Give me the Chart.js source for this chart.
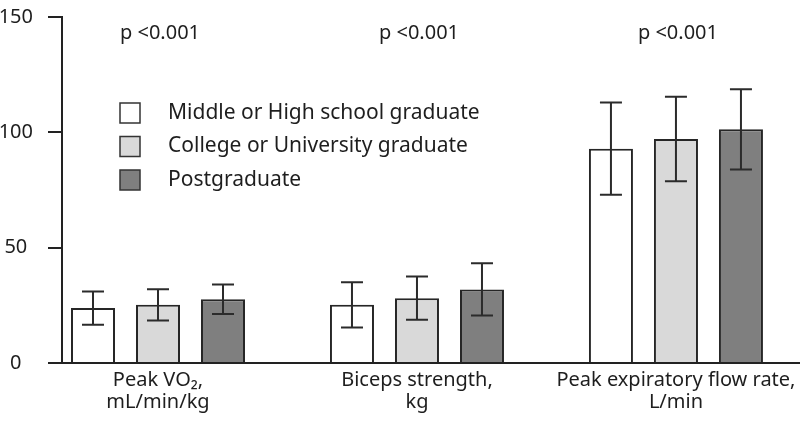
<!DOCTYPE html>
<html>
<head>
<meta charset="utf-8">
<script src="https://cdn.jsdelivr.net/npm/chart.js@4.4.1/dist/chart.umd.min.js"></script>
<style>
html, body { margin: 0; padding: 0; background: #fff; }
#wrap { width: 800px; height: 425px; }
</style>
</head>
<body>
<div id="wrap"><canvas id="chart"></canvas></div>
<script>
// values (mean and SD)
const categories = [['Peak VO\u2082,', 'mL/min/kg'], ['Biceps strength,', 'kg'], ['Peak expiratory flow rate,', 'L/min']];
const pLabels = ['p <0.001', 'p <0.001', 'p <0.001'];
const groupNames = ['Middle or High school graduate', 'College or University graduate', 'Postgraduate'];
const middleHigh = [23.8, 25.2, 92.9];
const middleHighSd = [7.2, 9.8, 20.0];
const college = [25.2, 28.1, 97.1];
const collegeSd = [6.8, 9.4, 18.3];
const postgrad = [27.6, 31.9, 101.3];
const postgradSd = [6.4, 11.3, 17.4];
const yTicks = [0, 50, 100, 150];

const FONT = '"Noto Sans", sans-serif';
const INK = '#1e1e1e';

function points(vals) {
  return vals.map((v, i) => ({ x: i, y: v }));
}

// SD whiskers
const errorBars = {
  id: 'errorBars',
  afterDatasetsDraw(chart) {
    const ctx = chart.ctx;
    const y = chart.scales.y;
    ctx.save();
    ctx.strokeStyle = '#2b2b2b';
    ctx.lineWidth = 2;
    chart.data.datasets.forEach((ds, di) => {
      chart.getDatasetMeta(di).data.forEach((bar, i) => {
        const m = ds.data[i].y, s = ds.sd[i];
        const top = y.getPixelForValue(m + s);
        const bot = y.getPixelForValue(m - s);
        ctx.beginPath();
        ctx.moveTo(bar.x, top); ctx.lineTo(bar.x, bot);
        ctx.moveTo(bar.x - 11, top); ctx.lineTo(bar.x + 11, top);
        ctx.moveTo(bar.x - 11, bot); ctx.lineTo(bar.x + 11, bot);
        ctx.stroke();
      });
    });
    ctx.restore();
  }
};

// p values above groups + legend inside the plot
const notes = {
  id: 'notes',
  afterDraw(chart) {
    const ctx = chart.ctx;
    const x = chart.scales.x;
    ctx.save();
    ctx.font = '20px ' + FONT;
    ctx.fillStyle = INK;
    ctx.textBaseline = 'middle';
    ctx.textAlign = 'center';
    pLabels.forEach((t, i) => ctx.fillText(t, x.getPixelForValue(i) + 2, 33));

    ctx.font = '21px ' + FONT;
    ctx.textAlign = 'left';
    chart.data.datasets.forEach((ds, i) => {
      const cy = 113 + i * 33.5;
      ctx.fillStyle = ds.backgroundColor;
      ctx.fillRect(120, cy - 10, 20, 20);
      ctx.strokeStyle = '#333';
      ctx.lineWidth = 1.5;
      ctx.strokeRect(120, cy - 10, 20, 20);
      ctx.fillStyle = INK;
      ctx.fillText(ds.label, 168, cy);
    });
    ctx.restore();
  }
};

const barStyle = { borderColor: '#262626', borderWidth: 2, borderSkipped: 'start' };

new Chart(document.getElementById('chart'), {
  type: 'bar',
  data: {
    datasets: [
      Object.assign({ label: groupNames[0], data: points(middleHigh), sd: middleHighSd, backgroundColor: '#ffffff' }, barStyle),
      Object.assign({ label: groupNames[1], data: points(college), sd: collegeSd, backgroundColor: '#d9d9d9' }, barStyle),
      Object.assign({ label: groupNames[2], data: points(postgrad), sd: postgradSd, backgroundColor: '#7f7f7f' }, barStyle)
    ]
  },
  options: {
    responsive: true,
    maintainAspectRatio: false,
    animation: false,
    categoryPercentage: 0.753,
    barPercentage: 0.677,
    layout: { padding: { top: 17, right: 0, left: 0, bottom: 0 } },
    plugins: { legend: { display: false }, tooltip: { enabled: false } },
    scales: {
      x: {
        type: 'linear',
        min: -0.3707,
        max: 2.479,
        offset: false,
        afterBuildTicks: s => { s.ticks = categories.map((c, i) => ({ value: i })); },
        afterFit: s => { s.height = 62; s.paddingLeft = 0; s.paddingRight = 0; },
        grid: { display: false, drawTicks: false },
        border: { display: true, color: '#222', width: 2 },
        ticks: {
          autoSkip: false,
          maxRotation: 0,
          padding: 6,
          color: INK,
          font: { family: FONT, size: 20, lineHeight: 1.12 },
          callback: v => categories[v]
        }
      },
      y: {
        min: 0,
        max: 150,
        afterBuildTicks: s => { s.ticks = yTicks.map(v => ({ value: v })); },
        afterFit: s => { s.width = 62; s.paddingTop = 0; s.paddingBottom = 0; },
        grid: { drawOnChartArea: false, drawTicks: true, tickLength: 14, color: '#222', lineWidth: 2 },
        border: { display: true, color: '#222', width: 2 },
        ticks: {
          crossAlign: 'center',
          padding: 15,
          color: INK,
          font: { family: FONT, size: 20 }
        }
      }
    }
  },
  plugins: [errorBars, notes]
});
</script>
</body>
</html>
